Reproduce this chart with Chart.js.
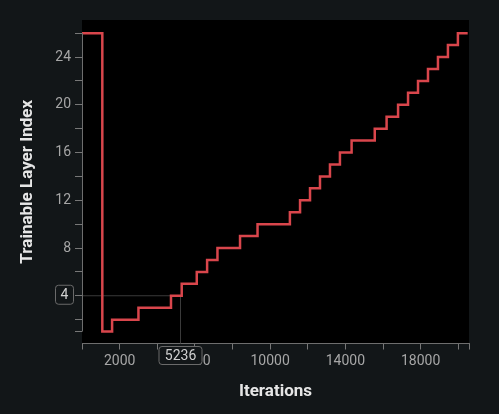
<!DOCTYPE html>
<html>
<head>
<meta charset="utf-8">
<script src="https://cdn.jsdelivr.net/npm/chart.js@4"></script>
<style>
html, body { margin: 0; padding: 0; background: #121618; }
#wrap { width: 499px; height: 414px; }
</style>
</head>
<body>
<div id="wrap"><canvas id="layerChart" width="499" height="414"></canvas></div>
<script>
// iteration where the trainable layer index changes, and the new index
const stepIters = [0, 1080, 1600, 3000, 4730, 5300, 6100, 6650, 7200, 8400, 9330, 11050, 11590, 12120, 12650, 13180, 13710, 14330, 15560, 16190, 16800, 17330, 17860, 18390, 18920, 19450, 19980, 20500];
const layerIdx = [26, 1, 2, 3, 4, 5, 6, 7, 8, 9, 10, 11, 12, 13, 14, 15, 16, 17, 18, 19, 20, 21, 22, 23, 24, 25, 26, 26];

// tick marks / labels
const xTickValues = [0, 2000, 4000, 6000, 8000, 10000, 12000, 14000, 16000, 18000, 20000, 20570];
const xTickLabels = [2000, 6000, 10000, 14000, 18000];
const yTickValues = [1, 2, 4, 6, 8, 10, 12, 14, 16, 18, 20, 22, 24, 26];
const yTickLabels = [4, 8, 12, 16, 20, 24];

// hover crosshair shown in the picture
const hoverIter = 5236;
const hoverLayer = 4;

const fontFamily = 'Roboto, "Noto Sans", sans-serif';
const bgColor = '#121618';

function boxLabel(ctx, text, cx, cy, w, h) {
    const x = cx - w / 2, y = cy - h / 2, r = 3;
    ctx.beginPath();
    ctx.moveTo(x + r, y);
    ctx.lineTo(x + w - r, y);
    ctx.quadraticCurveTo(x + w, y, x + w, y + r);
    ctx.lineTo(x + w, y + h - r);
    ctx.quadraticCurveTo(x + w, y + h, x + w - r, y + h);
    ctx.lineTo(x + r, y + h);
    ctx.quadraticCurveTo(x, y + h, x, y + h - r);
    ctx.lineTo(x, y + r);
    ctx.quadraticCurveTo(x, y, x + r, y);
    ctx.closePath();
    ctx.fillStyle = bgColor;
    ctx.fill();
    ctx.strokeStyle = '#6a6a6a';
    ctx.lineWidth = 1;
    ctx.stroke();
    ctx.fillStyle = '#d0d0d0';
    ctx.font = '14px ' + fontFamily;
    ctx.textAlign = 'center';
    ctx.textBaseline = 'middle';
    ctx.fillText(text, cx, cy + 1);
}

const plotDecor = {
    id: 'plotDecor',
    beforeDraw(chart) {
        const { ctx, chartArea: a } = chart;
        ctx.save();
        ctx.fillStyle = '#000';
        ctx.fillRect(a.left, a.top, a.right - a.left, a.bottom - a.top);
        ctx.restore();
    },
    beforeDatasetsDraw(chart) {
        // crosshair lines
        const { ctx, chartArea: a, scales } = chart;
        const px = scales.x.getPixelForValue(hoverIter);
        const py = scales.y.getPixelForValue(hoverLayer);
        ctx.save();
        ctx.strokeStyle = '#3a3a3a';
        ctx.lineWidth = 1;
        ctx.beginPath();
        ctx.moveTo(a.left, py);
        ctx.lineTo(px, py);
        ctx.moveTo(px, py);
        ctx.lineTo(px, a.bottom);
        ctx.stroke();
        ctx.restore();
    },
    afterDraw(chart) {
        const { ctx, chartArea: a, scales } = chart;
        ctx.save();
        // y axis domain line, from 1 to 26 only
        ctx.strokeStyle = '#6e6e6e';
        ctx.lineWidth = 1;
        ctx.beginPath();
        ctx.moveTo(a.left + 0.5, scales.y.getPixelForValue(yTickValues[yTickValues.length - 1]));
        ctx.lineTo(a.left + 0.5, scales.y.getPixelForValue(yTickValues[0]));
        ctx.stroke();

        const px = scales.x.getPixelForValue(hoverIter);
        const py = scales.y.getPixelForValue(hoverLayer);
        boxLabel(ctx, String(hoverLayer), a.left - 17.5, py - 1, 18, 19);
        boxLabel(ctx, String(hoverIter), px, a.bottom + 12, 43, 18);
        ctx.restore();
    }
};

const points = stepIters.map((it, i) => ({ x: it, y: layerIdx[i] }));

new Chart(document.getElementById('layerChart'), {
    type: 'line',
    data: {
        datasets: [{
            data: points,
            stepped: true,
            borderColor: '#d9464c',
            borderWidth: 2.5,
            pointRadius: 0,
            fill: false
        }]
    },
    options: {
        responsive: false,
        animation: false,
        events: [],
        layout: { padding: { top: 20, right: 30, left: 0, bottom: 0 } },
        plugins: {
            legend: { display: false },
            tooltip: { enabled: false }
        },
        scales: {
            x: {
                type: 'linear',
                min: 0,
                max: 20570,
                afterBuildTicks: (s) => { s.ticks = xTickValues.map(v => ({ value: v })); },
                afterFit: (s) => { s.height = 70.5; },
                border: { display: true, color: '#6e6e6e', width: 1 },
                grid: { drawOnChartArea: false, drawTicks: true, tickLength: 6, color: '#777', tickColor: '#777' },
                ticks: {
                    autoSkip: false,
                    maxRotation: 0,
                    padding: 4,
                    color: '#a6a6a6',
                    font: { size: 14, family: fontFamily },
                    callback: (v) => xTickLabels.includes(v) ? String(v) : ''
                },
                title: {
                    display: true,
                    text: 'Iterations',
                    color: '#e6e6e6',
                    font: { size: 17, weight: 'bold', family: fontFamily },
                    padding: { top: 0, bottom: 12 }
                }
            },
            y: {
                type: 'linear',
                min: 0,
                max: 27.1,
                afterBuildTicks: (s) => { s.ticks = yTickValues.map(v => ({ value: v })); },
                afterFit: (s) => { s.width = 82; },
                border: { display: false },
                grid: { drawOnChartArea: false, drawTicks: true, tickLength: 7, color: '#777', tickColor: '#777' },
                ticks: {
                    autoSkip: false,
                    padding: 4,
                    color: '#a6a6a6',
                    font: { size: 14, family: fontFamily },
                    callback: (v) => yTickLabels.includes(v) ? String(v) : ''
                },
                title: {
                    display: true,
                    text: 'Trainable Layer Index',
                    color: '#e6e6e6',
                    font: { size: 17, weight: 'bold', family: fontFamily },
                    padding: { top: 18, bottom: 0 }
                }
            }
        }
    },
    plugins: [plotDecor]
});
</script>
</body>
</html>
